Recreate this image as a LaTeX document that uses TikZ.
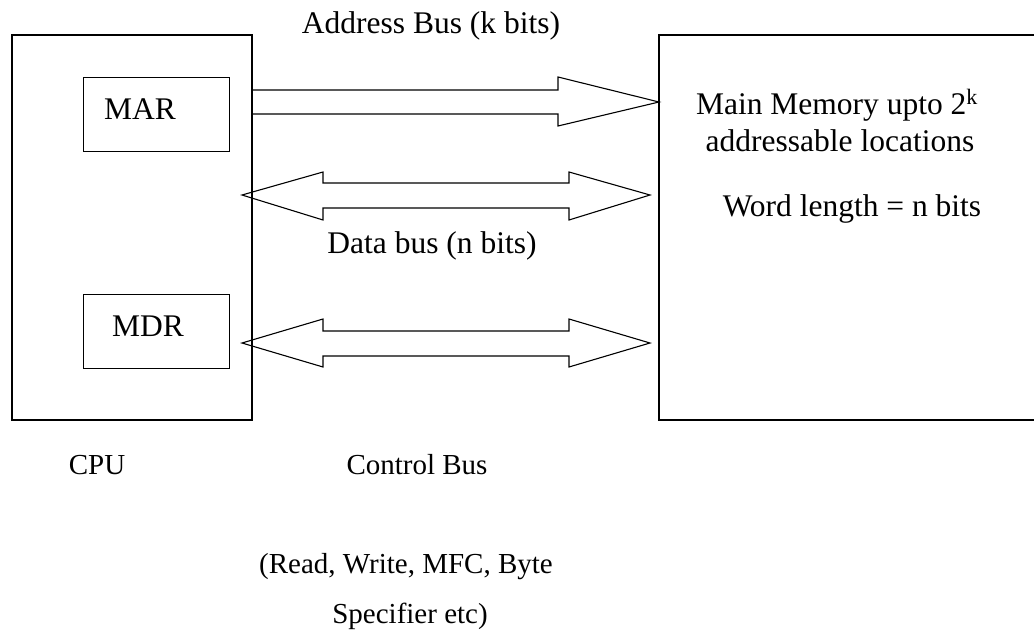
\documentclass[tikz,border=0pt]{standalone}
\usepackage{fontspec}
\setmainfont{Liberation Serif}
\begin{document}
\begin{tikzpicture}[x=1pt,y=-1pt,
  box/.style={draw,line width=1.1pt},
  inbox/.style={draw,line width=0.9pt},
  busarrow/.style={draw,line width=1.1pt,line join=miter},
  lbl/.style={anchor=base,inner sep=0pt,font=\fontsize{31.5}{36}\selectfont},
  lbls/.style={anchor=base,inner sep=0pt,font=\fontsize{29}{34}\selectfont}]
\useasboundingbox (0,0) rectangle (1034,642);
% boxes
\draw[box] (12,35) rectangle (252,420);
\draw[box] (1034,35) -- (659,35) -- (659,420) -- (1034,420);
\draw[inbox] (83,77) rectangle (229,151);
\draw[inbox] (83,294) rectangle (229,368);
% address bus arrow
\coordinate (a1) at (252,90);
\coordinate (a2) at (252,114);
\coordinate (atip) at (659,102);
\draw[busarrow] (a1) -- (558,90) -- (558,77) -- (atip) -- (558,126) -- (558,114) -- (a2);
% data bus arrow
\coordinate (dl) at (242,195);
\coordinate (dr) at (650,195);
\draw[busarrow] (dl) -- (323,172) -- (323,183) -- (569,183) -- (569,172) -- (dr)
  -- (569,220) -- (569,208) -- (323,208) -- (323,220) -- cycle;
% control bus arrow
\coordinate (cl) at (242,343);
\coordinate (cr) at (650,343);
\draw[busarrow] (cl) -- (323,319) -- (323,331) -- (569,331) -- (569,319) -- (cr)
  -- (569,367) -- (569,356) -- (323,356) -- (323,367) -- cycle;
% labels
\node[lbl] (mar) at (140,119) {MAR};
\node[lbl] (mdr) at (148,336) {MDR};
\node[lbl] (addr) at (431,34) {Address Bus (k bits)};
\node[lbl] (data) at (432,253) {Data bus (n bits)};
\node[lbl] (mm1) at (837,114) {Main Memory upto 2\textsuperscript{k}};
\node[lbl] (mm2) at (840,151) {addressable locations};
\node[lbl] (wl) at (852,216) {Word length = n bits};
\node[lbls] (cpu) at (97,474) {CPU};
\node[lbls] (cb) at (417,474) {Control Bus};
\node[lbls] (r1) at (406,573) {(Read, Write, MFC, Byte};
\node[lbls] (r2) at (410,623) {Specifier etc)};
\end{tikzpicture}
\end{document}
